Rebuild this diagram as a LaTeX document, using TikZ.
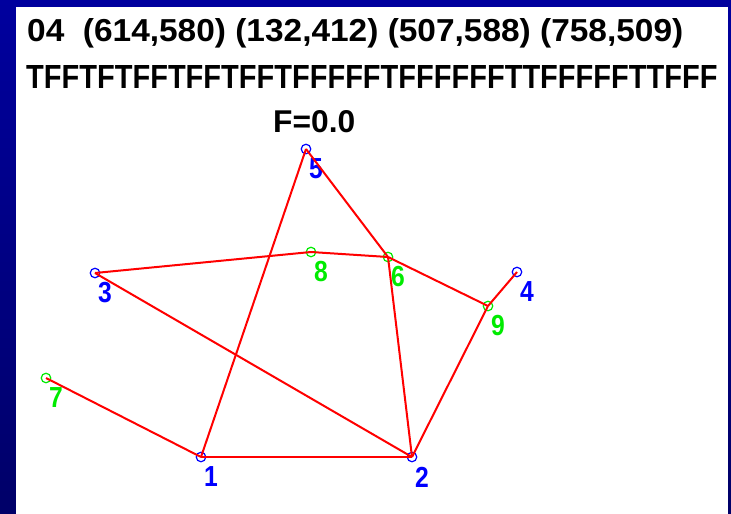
\documentclass[tikz,border=0pt]{standalone}
\usepackage{fontspec}
\setmainfont{Liberation Sans}
\usepackage{xcolor}
\definecolor{navytop}{RGB}{0,0,158}
\definecolor{navybot}{RGB}{0,0,104}
\definecolor{vblue}{RGB}{0,0,255}
\definecolor{vgreen}{RGB}{0,235,0}
\definecolor{wire}{RGB}{255,0,0}
\definecolor{ink}{RGB}{0,0,0}
\usetikzlibrary{positioning}

\begin{document}
\begin{tikzpicture}[x=1pt,y=-1pt,
  vtx/.style={circle,draw,line width=1.2pt,inner sep=0pt,minimum size=9.5pt},
  num/.style={font=\fontsize{29}{29}\selectfont\bfseries,inner sep=0pt},
  head/.style={inner sep=0pt,anchor=base west,text=ink},
  wired/.style={draw=wire,line width=2pt},
]
  %% frame and panel
  \shade[top color=navytop,bottom color=navybot] (0,0) rectangle (731,514);
  \fill[white] (16,7) rectangle (728,514);

  %% header lines
  \node[head] (coords) at (27,41)
    {\resizebox{656pt}{23pt}{\bfseries 04\ \ (614,580) (132,412) (507,588) (758,509)}};
  \node[head] (flags) at (26,88)
    {\resizebox{691pt}{23pt}{\bfseries TFFTFTFFTFFTFFTFFFFFTFFFFFFTTFFFFFTTFFF}};
  \node[head] (score) at (273,132)
    {\resizebox{82pt}{22pt}{\bfseries F=0.0}};

  %% vertices
  \foreach \n/\x/\y/\c in {1/201/457/vblue, 2/412/457/vblue, 3/95/273/vblue,
      4/517/272/vblue, 5/306/149/vblue, 6/388/257/vgreen, 7/46/378/vgreen,
      8/311/252/vgreen, 9/488/306/vgreen}{%
    \node[vtx,draw=\c] (v\n) at (\x,\y) {};
    \node[num,text=\c] (l\n) at ({\x+10},{\y+20}) {\scalebox{0.85}[1]{\n}};
  }

  %% edges
  \draw[wired,line width=2.8pt] (v1.center) -- (v2.center);
  \foreach \a/\b in {7/1, 1/5, 3/2, 3/8, 8/6, 5/6, 6/2, 6/9, 9/4, 9/2}{%
    \draw[wired] (v\a.center) -- (v\b.center);
  }
\end{tikzpicture}
\end{document}
